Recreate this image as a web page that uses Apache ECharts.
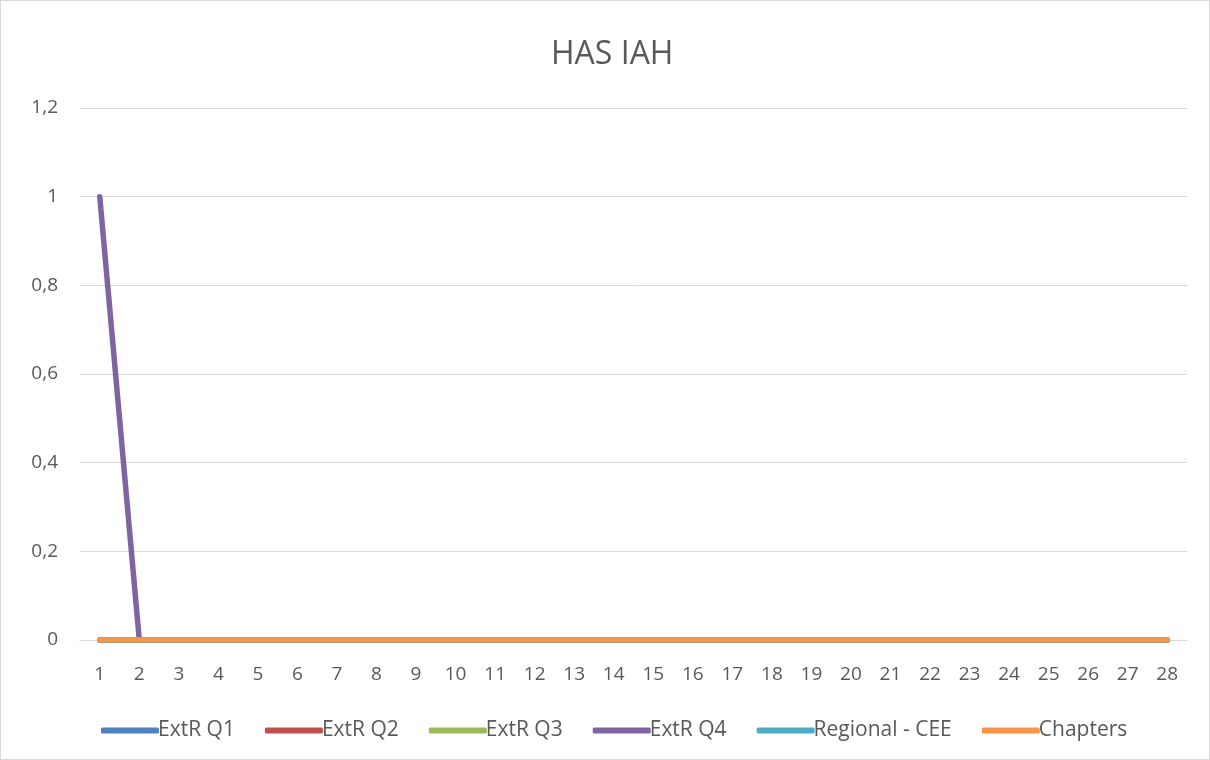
<!DOCTYPE html>
<html>
<head>
<meta charset="utf-8">
<script src="https://cdn.jsdelivr.net/npm/echarts@6/dist/echarts.min.js"></script>
<style>
  html, body { margin: 0; padding: 0; background: #fff; }
  #chart { width: 1210px; height: 760px; box-sizing: border-box; border: 1px solid #d9d9d9; }
</style>
</head>
<body>
<div id="chart"></div>
<script>
// categories 1..28
const categories = ["1","2","3","4","5","6","7","8","9","10","11","12","13","14",
  "15","16","17","18","19","20","21","22","23","24","25","26","27","28"];
const zeros = [0,0,0,0,0,0,0,0,0,0,0,0,0,0,0,0,0,0,0,0,0,0,0,0,0,0,0,0];
const extrQ1 = zeros;
const extrQ2 = zeros;
const extrQ3 = zeros;
const extrQ4 = [1,0,0,0,0,0,0,0,0,0,0,0,0,0,0,0,0,0,0,0,0,0,0,0,0,0,0,0];
const regionalCee = zeros;
const chapters = zeros;

const seriesNames = ["ExtR Q1", "ExtR Q2", "ExtR Q3", "ExtR Q4", "Regional - CEE", "Chapters"];
const seriesData = [extrQ1, extrQ2, extrQ3, extrQ4, regionalCee, chapters];
const colors = ["#4f81bd", "#c0504d", "#9bbb59", "#8064a2", "#4bacc6", "#f79646"];

const chart = echarts.init(document.getElementById("chart"));
chart.setOption({
  animation: false,
  color: colors,
  title: {
    text: "HAS IAH",
    left: 545,
    top: 33,
    textStyle: { fontFamily: "Open Sans", fontSize: 32, fontWeight: "normal", color: "#595959" }
  },
  legend: {
    top: 714,
    left: 95,
    itemWidth: 58,
    itemHeight: 6,
    itemGap: 30,
    icon: "roundRect",
    textStyle: { fontFamily: "Open Sans", fontSize: 21, color: "#595959", padding: [0, 0, 0, -6] },
    data: seriesNames
  },
  grid: { left: 79, right: 22, top: 107, bottom: 119, containLabel: false },
  xAxis: {
    type: "category",
    data: categories,
    boundaryGap: true,
    axisLine: { lineStyle: { color: "#d9d9d9", width: 1 } },
    axisTick: { show: false },
    axisLabel: { fontFamily: "Open Sans", fontSize: 19, color: "#595959", margin: 25, interval: 0 }
  },
  yAxis: {
    type: "value",
    min: 0,
    max: 1.2,
    interval: 0.2,
    axisLine: { show: false },
    axisTick: { show: false },
    axisLabel: {
      fontFamily: "Open Sans", fontSize: 19, color: "#595959", margin: 22,
      formatter: v => String(Math.round(v * 10) / 10).replace(".", ",")
    },
    splitLine: { lineStyle: { color: "#d9d9d9", width: 1 } }
  },
  series: seriesNames.map((name, i) => ({
    name: name,
    type: "line",
    data: seriesData[i],
    symbol: "none",
    lineStyle: { width: 5.5, cap: "round", join: "round" }
  }))
});
</script>
</body>
</html>
